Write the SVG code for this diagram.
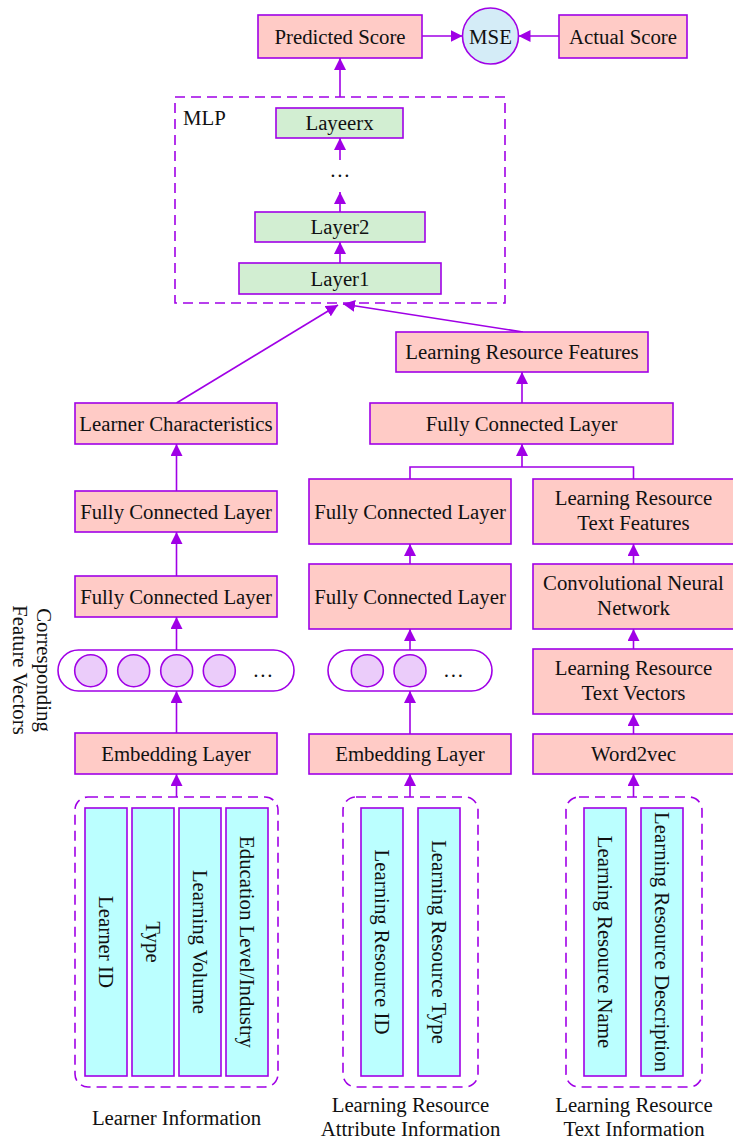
<svg xmlns="http://www.w3.org/2000/svg" width="733" height="1142" viewBox="0 0 733 1142">
<defs>
<style>
text{font-family:"Liberation Serif","Times New Roman",serif;font-size:20.8px;fill:#111;}
.c{text-anchor:middle;}
.box{fill:#ffcbc6;stroke:#a000e6;stroke-width:1.6;}
.grn{fill:#d2eed2;stroke:#a000e6;stroke-width:1.6;}
.cyan{fill:#bbffff;stroke:#a000e6;stroke-width:1.6;}
.dash{fill:none;stroke:#a000e6;stroke-width:1.6;stroke-dasharray:10,6;}
.oval{fill:#fff;stroke:#a000e6;stroke-width:1.6;}
.dot{fill:#ebccfa;stroke:#a000e6;stroke-width:1.6;}
.ln{fill:none;stroke:#a000e6;stroke-width:1.6;}
.ar{fill:none;stroke:#a000e6;stroke-width:1.6;marker-end:url(#ah);}
</style>
<marker id="ah" markerUnits="userSpaceOnUse" markerWidth="13" markerHeight="12" refX="12" refY="6" orient="auto">
<path d="M0,0 L12,6 L0,12 z" fill="#a000e6"/>
</marker>
</defs>

<g id="connectors">
<line class="ar" x1="422" y1="36" x2="462.5" y2="36"/>
<line class="ar" x1="559" y1="36" x2="518.5" y2="36"/>
<line class="ar" x1="340" y1="97" x2="340" y2="58"/>
<line class="ar" x1="340" y1="160" x2="340" y2="138"/>
<line class="ar" x1="340" y1="212" x2="340" y2="192"/>
<line class="ar" x1="340" y1="263" x2="340" y2="242"/>
<line class="ar" x1="176.5" y1="403" x2="338" y2="305"/>
<line class="ar" x1="523" y1="332" x2="343" y2="304"/>
<line class="ar" x1="522" y1="403" x2="522" y2="372"/>
<polyline class="ln" points="410,479 410,467 633.5,467 633.5,479"/>
<line class="ar" x1="522" y1="467" x2="522" y2="444"/>
<line class="ar" x1="176.5" y1="491" x2="176.5" y2="444"/>
<line class="ar" x1="176.5" y1="576" x2="176.5" y2="532"/>
<line class="ar" x1="176.5" y1="650" x2="176.5" y2="617"/>
<line class="ar" x1="176.5" y1="733" x2="176.5" y2="691"/>
<line class="ar" x1="176.5" y1="797" x2="176.5" y2="774"/>
<line class="ar" x1="410" y1="564" x2="410" y2="544"/>
<line class="ar" x1="410" y1="650" x2="410" y2="629"/>
<line class="ar" x1="410" y1="734" x2="410" y2="691"/>
<line class="ar" x1="410" y1="797" x2="410" y2="774"/>
<line class="ar" x1="633.5" y1="564" x2="633.5" y2="544"/>
<line class="ar" x1="633.5" y1="649" x2="633.5" y2="629"/>
<line class="ar" x1="633.5" y1="734" x2="633.5" y2="714"/>
<line class="ar" x1="633.5" y1="797" x2="633.5" y2="774"/>
</g>

<g id="predicted-score"><rect class="box" x="258" y="15" width="164" height="43"/><text class="c" x="340" y="43.5">Predicted Score</text></g>
<g id="mse"><circle cx="490.5" cy="36" r="28" fill="#d4ecf7" stroke="#a000e6" stroke-width="1.6"/><text class="c" x="490.5" y="43.5">MSE</text></g>
<g id="actual-score"><rect class="box" x="559" y="15" width="128" height="43"/><text class="c" x="623" y="43.5">Actual Score</text></g>

<g id="mlp"><rect class="dash" x="175" y="97" width="330" height="206"/><text x="183" y="125">MLP</text></g>
<g id="layeerx"><rect class="grn" x="276" y="108" width="127" height="30"/><text class="c" x="339.5" y="130">Layeerx</text></g>
<g id="mlp-dots"><text class="c" x="340" y="177">…</text></g>
<g id="layer2"><rect class="grn" x="255" y="212" width="170" height="30"/><text class="c" x="340" y="234">Layer2</text></g>
<g id="layer1"><rect class="grn" x="239" y="263" width="202" height="31"/><text class="c" x="340" y="285.5">Layer1</text></g>

<g id="learner-characteristics"><rect class="box" x="75" y="403" width="202" height="41"/><text class="c" x="176" y="430.5">Learner Characteristics</text></g>
<g id="lrf"><rect class="box" x="396" y="332" width="252" height="40"/><text class="c" x="522" y="359">Learning Resource Features</text></g>
<g id="fc-top"><rect class="box" x="370" y="403" width="303" height="41"/><text class="c" x="521.5" y="430.5">Fully Connected Layer</text></g>

<g id="fc-l2"><rect class="box" x="75" y="491" width="202" height="41"/><text class="c" x="176" y="518.5">Fully Connected Layer</text></g>
<g id="fc-l1"><rect class="box" x="75" y="576" width="202" height="41"/><text class="c" x="176" y="603.5">Fully Connected Layer</text></g>
<g id="vec-l"><rect class="oval" x="58" y="650" width="236" height="41" rx="20.5"/>
<circle class="dot" cx="90.7" cy="670.7" r="16"/><circle class="dot" cx="133.7" cy="670.7" r="16"/><circle class="dot" cx="176.7" cy="670.7" r="16"/><circle class="dot" cx="219.3" cy="670.7" r="16"/>
<text class="c" x="263" y="677">…</text></g>
<g id="emb-l"><rect class="box" x="75" y="733" width="202" height="41"/><text class="c" x="176" y="760.5">Embedding Layer</text></g>
<g id="cfv-label"><text class="c" transform="translate(37,670) rotate(90)">Corresponding</text><text class="c" transform="translate(12.5,670) rotate(90)">Feature Vectors</text></g>

<g id="fc-m2"><rect class="box" x="309" y="479" width="202" height="65"/><text class="c" x="410" y="518.5">Fully Connected Layer</text></g>
<g id="fc-m1"><rect class="box" x="309" y="564" width="202" height="65"/><text class="c" x="410" y="603.5">Fully Connected Layer</text></g>
<g id="vec-m"><rect class="oval" x="328" y="650" width="164" height="41" rx="20.5"/>
<circle class="dot" cx="367.3" cy="670.7" r="16"/><circle class="dot" cx="410" cy="670.7" r="16"/>
<text class="c" x="453.5" y="677">…</text></g>
<g id="emb-m"><rect class="box" x="309" y="734" width="202" height="40"/><text class="c" x="410" y="761">Embedding Layer</text></g>

<g id="lrtf"><rect class="box" x="533" y="479" width="201" height="65"/><text class="c" x="633.5" y="505">Learning Resource</text><text class="c" x="633.5" y="530">Text Features</text></g>
<g id="cnn"><rect class="box" x="533" y="564" width="201" height="65"/><text class="c" x="633.5" y="590">Convolutional Neural</text><text class="c" x="633.5" y="615">Network</text></g>
<g id="lrtv"><rect class="box" x="533" y="649" width="201" height="65"/><text class="c" x="633.5" y="675">Learning Resource</text><text class="c" x="633.5" y="700">Text Vectors</text></g>
<g id="word2vec"><rect class="box" x="533" y="734" width="201" height="40"/><text class="c" x="633.5" y="761">Word2vec</text></g>

<g id="learner-info">
<rect class="dash" x="75" y="797" width="203" height="290" rx="13"/>
<rect class="cyan" x="85" y="808" width="42" height="268"/>
<rect class="cyan" x="132" y="808" width="42" height="268"/>
<rect class="cyan" x="179" y="808" width="42" height="268"/>
<rect class="cyan" x="226" y="808" width="42" height="268"/>
<text class="c" transform="translate(99,942) rotate(90)">Learner ID</text>
<text class="c" transform="translate(146,942) rotate(90)">Type</text>
<text class="c" transform="translate(193,942) rotate(90)">Learning Volume</text>
<text class="c" transform="translate(240,942) rotate(90)">Education Level/Industry</text>
<text class="c" x="176.5" y="1125">Learner Information</text>
</g>

<g id="attr-info">
<rect class="dash" x="343" y="797" width="135" height="290" rx="13"/>
<rect class="cyan" x="361" y="808" width="42" height="268"/>
<rect class="cyan" x="418" y="808" width="42" height="268"/>
<text class="c" transform="translate(375,942) rotate(90)">Learning Resource ID</text>
<text class="c" transform="translate(432,942) rotate(90)">Learning Resource Type</text>
<text class="c" x="410.5" y="1112">Learning Resource</text>
<text class="c" x="410.5" y="1136">Attribute Information</text>
</g>

<g id="text-info">
<rect class="dash" x="566" y="797" width="136" height="290" rx="13"/>
<rect class="cyan" x="584" y="808" width="42" height="268"/>
<rect class="cyan" x="641" y="808" width="42" height="268"/>
<text class="c" transform="translate(598,942) rotate(90)">Learning Resource Name</text>
<text class="c" transform="translate(655,942) rotate(90)">Learning Resource Description</text>
<text class="c" x="634" y="1112">Learning Resource</text>
<text class="c" x="634" y="1136">Text Information</text>
</g>
</svg>
